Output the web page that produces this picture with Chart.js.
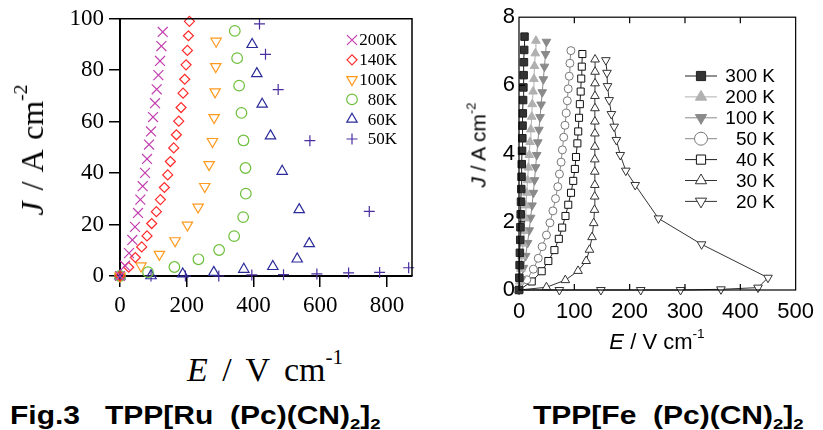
<!DOCTYPE html>
<html><head><meta charset="utf-8">
<script src="https://cdn.jsdelivr.net/npm/chart.js@4"></script>
<style>
body{margin:0;background:#fff;width:823px;height:430px;position:relative;overflow:hidden;}
.abs{position:absolute;white-space:pre;line-height:1;color:#000;}
sup{font-size:0.62em;vertical-align:0.8em;line-height:0}
sub{font-size:0.62em;vertical-align:-0.3em;line-height:0}
.serif{font-family:'Liberation Serif','Times New Roman',serif;}
.sans{font-family:'Liberation Sans',Arial,sans-serif;}
.cap{font-size:25px;font-weight:bold;transform:scaleX(1.2);transform-origin:0 50%;}
</style></head><body>
<canvas id="c1" width="430" height="330" style="position:absolute;left:0;top:0"></canvas>
<canvas id="c2" width="383" height="330" style="position:absolute;left:440px;top:0"></canvas>

<div class="abs serif" style="left:32px;top:150px;font-size:32px;transform:translate(-50%,-50%) rotate(-90deg);word-spacing:3px"><i>J</i> / A cm<sup>-2</sup></div>
<div class="abs serif" style="left:265px;top:370px;font-size:34px;transform:translate(-50%,-50%);word-spacing:6px"><i>E</i> / V cm<sup>-1</sup></div>
<div class="abs sans cap" style="left:10px;top:403px">Fig.3   TPP[Ru  (Pc)(CN)<sub>2</sub>]<sub>2</sub></div>

<div class="abs sans" style="left:478px;top:145px;font-size:21px;transform:translate(-50%,-50%) rotate(-90deg)"><i>J</i> / A cm<sup>-2</sup></div>
<div class="abs sans" style="left:657px;top:342px;font-size:22px;transform:translate(-50%,-50%)"><i>E</i> / V cm<sup>-1</sup></div>
<div class="abs sans cap" style="left:533px;top:403px">TPP[Fe  (Pc)(CN)<sub>2</sub>]<sub>2</sub></div>

<script>
// ---------- Left panel: TPP[Ru(Pc)(CN)2]2 ----------
const leftLabels = ['200K','140K','100K','80K','60K','50K'];
const leftXTicks = [0,200,400,600,800];
const leftYTicks = [0,20,40,60,80,100];

const ru200x = [0,15,27,37,45,54,61,68,75,81,87,93,99,105,110,115,120,124,128];
const ru200y = [0,4.0,8.9,14.0,19.1,24.5,29.7,34.9,40.1,45.5,51.1,56.2,61.8,67.2,72.6,78.1,83.6,89.4,94.9];
const ru140x = [0,26,46,65,81,95,109,121,133,143,151,161,169,176,183,189,194,198,202,205,208];
const ru140y = [0,3.4,7.2,11.3,15.6,20.4,25.0,29.7,34.4,39.3,44.5,49.8,54.9,60.2,65.5,71.1,76.5,82.1,87.7,93.4,99.0];
const ru100x = [0,63,118,165,202,234,254,267,277,282,285,287,288];
const ru100y = [0,3.9,8.4,13.7,19.8,26.8,34.8,43.3,52.3,61.6,71.6,81.4,91.3];
const ru80x = [0,84,163,235,297,342,369,377,376,370,364,357,351,344];
const ru80y = [0,1.5,3.5,6.5,10.1,15.5,22.9,32.0,42.0,52.7,63.4,74.0,84.7,95.3];
const ru60x = [0,93,188,281,371,458,531,567,537,486,451,426,410,396];
const ru60y = [0,0.1,0.8,1.4,2.6,3.7,6.6,12.6,25.8,40.7,54.5,66.8,78.7,90.0];
const ru50x = [0,93,196,296,395,490,590,685,778,865,747,569,474,436,418];
const ru50y = [0,0,0,0,0.4,0.5,0.8,1.2,1.4,3.2,25.1,52.6,72.5,86.2,98.0];

// ---------- Right panel: TPP[Fe(Pc)(CN)2]2 ----------
const rightLabels = ['300 K','200 K','100 K','50 K','40 K','30 K','20 K'];
const rightXTicks = [0,100,200,300,400,500];
const rightYTicks = [0,2,4,6,8];

const fe300x = [0,0.6,1.1,1.6,2.2,2.6,3.1,3.6,4.1,4.6,5.0,5.5,6.0,6.4,6.9,7.4,7.9,8.4,8.9,9.4,10.0];
const fe300y = [0,0.36,0.73,1.09,1.47,1.84,2.22,2.59,2.96,3.32,3.69,4.08,4.45,4.82,5.18,5.57,5.94,6.30,6.68,7.04,7.43];
const fe200x = [0,1.5,3.5,5.5,7.5,9,11,12.5,14,15.5,17,18.5,20,21.5,23,24,25.5,27,28,29.5,30.6];
const fe200y = [0,0.25,0.62,0.99,1.36,1.73,2.10,2.48,2.85,3.22,3.59,3.96,4.34,4.71,5.08,5.45,5.82,6.19,6.57,6.94,7.31];
const fe100x = [0,4,8,12,15.5,18.5,21,23.5,26,28,30,32,34,36,38,40,42,44,46,48,49.6];
const fe100y = [0,0.3,0.65,1.0,1.38,1.75,2.12,2.48,2.85,3.22,3.6,3.96,4.33,4.7,5.07,5.44,5.8,6.18,6.55,6.92,7.28];
const fe50x = [0,14.1,25.9,34.8,41.8,49.6,55.9,61.3,66.0,70.1,73.1,76.1,78.4,80.8,83.1,85.5,87.3,89.0,90.8,92.0,93.8];
const fe50y = [0,0.30,0.61,0.93,1.27,1.61,1.97,2.32,2.68,3.03,3.40,3.75,4.11,4.48,4.83,5.19,5.55,5.90,6.27,6.65,7.02];
const fe40x = [0,23,41,53,64,72,78,84,89,94,98,101,103,105.5,107,108.5,110,111.5,112.5,113.5,114.5];
const fe40y = [0,0.25,0.55,0.85,1.17,1.5,1.83,2.17,2.5,2.85,3.2,3.55,3.9,4.3,4.65,5.05,5.45,5.82,6.2,6.55,6.92];
const fe30x = [0,49.6,83.7,106.7,121.4,127.4,132,135,136.5,136.8,137,137,137,137.1,137.2,137.2,137.3,137.3,137.4,137.5,137.5];
const fe30y = [0,0.08,0.29,0.56,0.85,1.18,1.55,1.96,2.35,2.74,3.08,3.47,3.83,4.20,4.59,4.94,5.33,5.69,6.06,6.40,6.76];
const fe20x = [0,73,148,220,292,365,432,450,330,252,210,193,183,176,172,167,163,160,159,157];
const fe20y = [0,0,0,0,0,0.02,0.07,0.36,1.34,2.10,3.08,3.50,3.96,4.40,4.79,5.16,5.57,5.98,6.37,6.74];

const zip = (xs, ys) => xs.map((x, i) => ({x, y: ys[i]}));
const SERIF = "'Liberation Serif','Times New Roman',serif";
const SANS = "'Liberation Sans',Arial,sans-serif";

// legend + frame plugin
const decor = {
  id: 'decor',
  afterDraw(chart, args, opts) {
    const ctx = chart.ctx, a = chart.chartArea;
    ctx.save();
    ctx.strokeStyle = '#000';
    if (opts.frame === 'left') {
      ctx.lineWidth = 1.5;
      ctx.beginPath();
      ctx.moveTo(a.left, a.top); ctx.lineTo(a.right, a.top); ctx.lineTo(a.right, a.bottom);
      ctx.stroke();
    } else {
      ctx.lineWidth = 1.2;
      ctx.strokeRect(a.left, a.top, a.right - a.left, a.bottom - a.top);
      const xs = chart.scales.x, ys = chart.scales.y, t = 6;
      ctx.beginPath();
      rightXTicks.slice(1, -1).forEach(v => {
        const p = xs.getPixelForValue(v);
        ctx.moveTo(p, a.bottom); ctx.lineTo(p, a.bottom - t);
        ctx.moveTo(p, a.top); ctx.lineTo(p, a.top + t);
      });
      rightYTicks.slice(1, -1).forEach(v => {
        const p = ys.getPixelForValue(v);
        ctx.moveTo(a.left, p); ctx.lineTo(a.left + t, p);
      });
      ctx.stroke();
    }
    // legend
    const L = opts.legend;
    chart.data.datasets.forEach((ds, i) => {
      const y = L.y0 + i * L.dy;
      if (L.lineFrom !== undefined) {
        ctx.strokeStyle = ds.borderColor; ctx.lineWidth = 1;
        ctx.beginPath(); ctx.moveTo(L.lineFrom, y); ctx.lineTo(L.lineTo, y); ctx.stroke();
      }
      ctx.fillStyle = ds.pointBackgroundColor;
      ctx.strokeStyle = ds.pointBorderColor;
      ctx.lineWidth = ds.pointBorderWidth;
      Chart.helpers.drawPoint(ctx, {pointStyle: ds.pointStyle, rotation: ds.pointRotation || 0,
        radius: L.radius ? L.radius : ds.pointRadius, borderWidth: ds.pointBorderWidth}, L.markX, y);
      ctx.fillStyle = '#000';
      ctx.font = L.font;
      ctx.textAlign = 'right';
      ctx.textBaseline = 'middle';
      ctx.fillText(ds.label, L.textX, y + 1);
    });
    ctx.restore();
  }
};

function leftDs(label, xs, ys, style, color, r, rot) {
  return {label, data: zip(xs, ys), showLine: false, pointStyle: style, pointRadius: r,
    pointRotation: rot || 0, pointBorderColor: color, pointBackgroundColor: 'rgba(0,0,0,0)',
    pointBorderWidth: 1.2, borderColor: color, clip: false};
}

new Chart(document.getElementById('c1'), {
  type: 'scatter',
  data: {datasets: [
    leftDs(leftLabels[0], ru200x, ru200y, 'crossRot', '#c23fae', 7),
    leftDs(leftLabels[1], ru140x, ru140y, 'rectRot', '#ff2a2a', 5),
    leftDs(leftLabels[2], ru100x, ru100y, 'triangle', '#ff9a1f', 6, 180),
    leftDs(leftLabels[3], ru80x, ru80y, 'circle', '#6cbf3a', 5.3),
    leftDs(leftLabels[4], ru60x, ru60y, 'triangle', '#2b2b9a', 6),
    leftDs(leftLabels[5], ru50x, ru50y, 'cross', '#4b2ea0', 5.5)
  ]},
  options: {
    responsive: false, animation: false, devicePixelRatio: 1,
    layout: {padding: {top: 17, right: 18, left: 0, bottom: 0}},
    plugins: {legend: {display: false}, tooltip: {enabled: false},
      decor: {frame: 'left', legend: {markX: 352, textX: 397, y0: 40, dy: 19.8, font: '17px ' + SERIF}}},
    scales: {
      x: {type: 'linear', min: 0, max: 875,
        afterBuildTicks: s => { s.ticks = leftXTicks.map(v => ({value: v})); },
        afterFit: s => { s.height = 54; },
        ticks: {font: {family: SERIF, size: 23}, color: '#000', padding: 5, maxRotation: 0},
        grid: {drawOnChartArea: false, drawTicks: true, tickLength: 11, color: '#000', lineWidth: 1.5},
        border: {display: true, color: '#000', width: 2}},
      y: {type: 'linear', min: 0, max: 100,
        afterBuildTicks: s => { s.ticks = leftYTicks.map(v => ({value: v})); },
        afterFit: s => { s.width = 120; },
        ticks: {font: {family: SERIF, size: 23}, color: '#000', padding: 5},
        grid: {drawOnChartArea: false, drawTicks: true, tickLength: 11, color: '#000', lineWidth: 1.5},
        border: {display: true, color: '#000', width: 2}}
    }
  },
  plugins: [decor]
});

function rightDs(label, xs, ys, style, r, rot, fill, stroke, line) {
  return {label, data: zip(xs, ys), showLine: true, tension: 0, borderWidth: 1, borderColor: line,
    pointStyle: style, pointRadius: r, pointRotation: rot || 0, pointBackgroundColor: fill,
    pointBorderColor: stroke, pointBorderWidth: 1, clip: false};
}

new Chart(document.getElementById('c2'), {
  type: 'scatter',
  data: {datasets: [
    rightDs(rightLabels[0], fe300x, fe300y, 'rect', 5.3, 0, '#333333', '#222222', '#222222'),
    rightDs(rightLabels[1], fe200x, fe200y, 'triangle', 5, 0, '#b0b0b0', '#b0b0b0', '#b0b0b0'),
    rightDs(rightLabels[2], fe100x, fe100y, 'triangle', 5, 180, '#8a8a8a', '#8a8a8a', '#8a8a8a'),
    rightDs(rightLabels[3], fe50x, fe50y, 'circle', 4, 0, '#ffffff', '#777777', '#888888'),
    rightDs(rightLabels[4], fe40x, fe40y, 'rect', 5, 0, '#ffffff', '#111111', '#222222'),
    rightDs(rightLabels[5], fe30x, fe30y, 'triangle', 5, 0, '#ffffff', '#333333', '#333333'),
    rightDs(rightLabels[6], fe20x, fe20y, 'triangle', 5, 180, '#ffffff', '#333333', '#333333')
  ]},
  options: {
    responsive: false, animation: false, devicePixelRatio: 1,
    layout: {padding: {top: 17, right: 22, left: 0, bottom: 0}},
    plugins: {legend: {display: false}, tooltip: {enabled: false},
      decor: {frame: 'right', legend: {markX: 261, textX: 335, y0: 76, dy: 20.9, radius: 6.5,
        lineFrom: 245, lineTo: 277, font: '19px ' + SANS}}},
    scales: {
      x: {type: 'linear', min: 0, max: 500,
        afterBuildTicks: s => { s.ticks = rightXTicks.map(v => ({value: v})); },
        afterFit: s => { s.height = 40; },
        ticks: {font: {family: SANS, size: 22}, color: '#000', padding: 9, maxRotation: 0},
        grid: {display: false, drawTicks: false}, border: {display: false}},
      y: {type: 'linear', min: 0, max: 8,
        afterBuildTicks: s => { s.ticks = rightYTicks.map(v => ({value: v})); },
        afterFit: s => { s.width = 79; },
        ticks: {font: {family: SANS, size: 22}, color: '#000', padding: 4},
        grid: {display: false, drawTicks: false}, border: {display: false}}
    }
  },
  plugins: [decor]
});
</script>
</body></html>
